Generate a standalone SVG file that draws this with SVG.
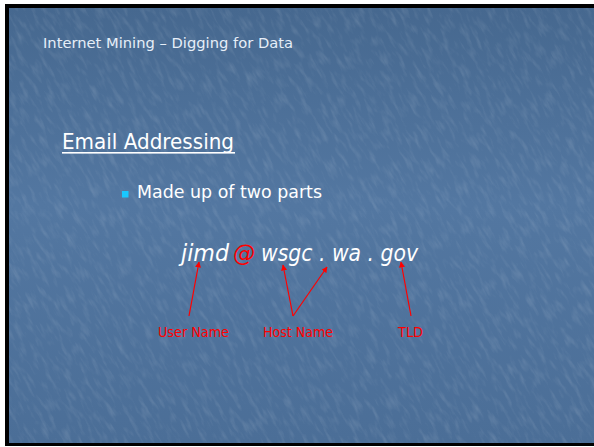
<svg xmlns="http://www.w3.org/2000/svg" width="594" height="447" viewBox="0 0 594 447">
  <style>
    .sans { font-family: "DejaVu Sans", "Liberation Sans", sans-serif; }
    .head { fill: #e6eef8; font-size: 14px; }
    .title { fill: #ffffff; font-size: 21px; }
    .body { fill: #ffffff; font-size: 18px; }
    .addr { fill: #ffffff; font-size: 23px; font-style: italic; }
    .at { fill: #ff0000; }
    .lbl { fill: #ff0000; font-size: 14px; }
    .arrow { stroke: #ff0000; stroke-width: 1.2; fill: none; marker-end: url(#head); }
  </style>
  <defs>
    <linearGradient id="bg" x1="0" y1="0" x2="0" y2="1">
      <stop offset="0" stop-color="#46688f"/>
      <stop offset="0.45" stop-color="#5377a1"/>
      <stop offset="1" stop-color="#4b6e97"/>
    </linearGradient>
    <clipPath id="slide">
      <rect x="9" y="8" width="590" height="435"/>
    </clipPath>
    <filter id="grain" x="-200" y="-200" width="1000" height="850" filterUnits="userSpaceOnUse">
      <feTurbulence type="fractalNoise" baseFrequency="0.22 0.06" numOctaves="3" seed="7" result="n"/>
      <feColorMatrix in="n" type="matrix" values="0 0 0 0 1  0 0 0 0 1  0 0 0 0 1  0 0 0 1.6 -0.75"/>
    </filter>
    <marker id="head" viewBox="0 0 10 10" refX="9" refY="5" markerWidth="6" markerHeight="6" orient="auto" markerUnits="userSpaceOnUse">
      <path d="M0,0 L10,5 L0,10 z" fill="#ff0000"/>
    </marker>
  </defs>

  <!-- page, frame and textured slide background -->
  <rect x="0" y="0" width="594" height="447" fill="#ffffff"/>
  <rect x="5" y="4" width="595" height="442" fill="#000000"/>
  <rect x="9" y="8" width="590" height="435" fill="url(#bg)"/>
  <g clip-path="url(#slide)">
    <g transform="rotate(-30 300 225)" opacity="0.16">
      <rect x="-200" y="-200" width="1000" height="850" fill="#ffffff" filter="url(#grain)"/>
    </g>
  </g>

  <g id="header">
    <text class="sans head" x="43" y="48" textLength="250" lengthAdjust="spacingAndGlyphs">Internet Mining – Digging for Data</text>
  </g>

  <g id="title">
    <text class="sans title" x="62" y="149" textLength="172" lengthAdjust="spacingAndGlyphs">Email Addressing</text>
    <rect x="62" y="152" width="173" height="1.6" fill="#ffffff"/>
  </g>

  <g id="bullet">
    <rect x="122" y="191" width="6.5" height="6.5" fill="#19c8ff"/>
    <text class="sans body" x="137" y="198" textLength="185" lengthAdjust="spacingAndGlyphs">Made up of two parts</text>
  </g>

  <g id="address">
    <text class="sans addr" x="181" y="261" textLength="48" lengthAdjust="spacingAndGlyphs">jimd</text>
    <text class="sans addr at" x="233" y="261" textLength="22" lengthAdjust="spacingAndGlyphs">@</text>
    <text class="sans addr" x="261" y="261" textLength="157" lengthAdjust="spacingAndGlyphs">wsgc . wa . gov</text>
  </g>

  <g id="connectors">
    <line class="arrow" x1="189" y1="316" x2="199" y2="262"/>
    <line class="arrow" x1="293" y1="316" x2="283" y2="265"/>
    <line class="arrow" x1="293" y1="316" x2="327" y2="267"/>
    <line class="arrow" x1="411" y1="316" x2="401" y2="262"/>
  </g>

  <g id="user-name">
    <text class="sans lbl" x="158" y="337" textLength="71" lengthAdjust="spacingAndGlyphs">User Name</text>
  </g>
  <g id="host-name">
    <text class="sans lbl" x="263" y="337" textLength="70" lengthAdjust="spacingAndGlyphs">Host Name</text>
  </g>
  <g id="tld">
    <text class="sans lbl" x="398" y="337" textLength="25" lengthAdjust="spacingAndGlyphs">TLD</text>
  </g>
</svg>
